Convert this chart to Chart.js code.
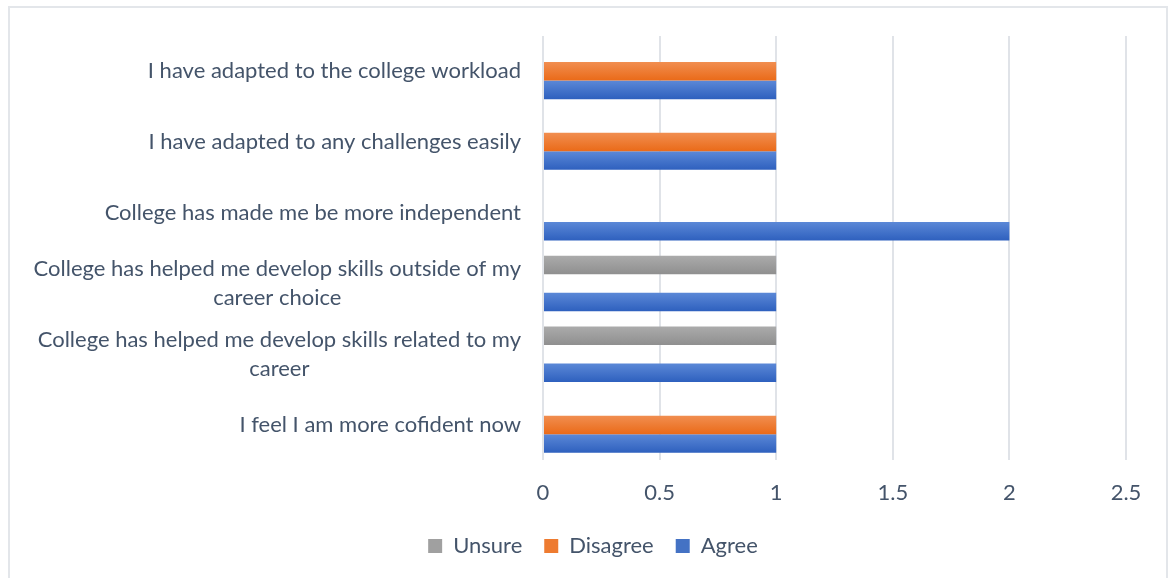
<!DOCTYPE html>
<html>
<head>
<meta charset="utf-8">
<script src="https://cdn.jsdelivr.net/npm/chart.js@4.4.1/dist/chart.umd.min.js"></script>
<style>
  html, body { margin: 0; padding: 0; background: #fff; }
  #wrap { position: relative; width: 1173px; height: 578px; overflow: hidden; }
  #frame { position: absolute; left: 8px; top: 6px; width: 1160px; height: 600px; border: 2px solid #E3E6EA; box-sizing: border-box; }
  canvas { position: absolute; left: 0; top: 0; }
</style>
</head>
<body>
<div id="wrap">
  <div id="frame"></div>
  <canvas id="chart" width="1173" height="578"></canvas>
</div>
<script>
const categories = [
    ['I have adapted to the college workload'],
    ['I have adapted to any challenges easily'],
    ['College has made me be more independent'],
    ['College has helped me develop skills outside of my', 'career choice'],
    ['College has helped me develop skills related to my', 'career'],
    ['I feel I am more cofident now']
];
const unsure = [null, null, null, 1, 1, null];
const disagree = [1, 1, null, null, null, 1];
const agree = [1, 1, 2, 1, 1, 1];
const xTicks = [0, 0.5, 1, 1.5, 2, 2.5];

const textColor = '#44546A';
const fontFamily = 'Lato, "Open Sans", sans-serif';
const fontSize = 22;
const catPct = 0.785;
const padLeft = 60;
const plotLeft = 543;

// vertical gradient per bar, computed from the category scale
const barGradient = (top, bottom, seriesCount) => (ctx) => {
    const chart = ctx.chart;
    const yScale = chart.scales.y;
    if (!yScale || !chart.chartArea) return bottom;
    const center = yScale.getPixelForValue(ctx.dataIndex);
    const pitch = (chart.chartArea.bottom - chart.chartArea.top) / categories.length;
    const slot = pitch * catPct / seriesCount;
    const y0 = center + (ctx.datasetIndex - (seriesCount - 1) / 2) * slot - slot / 2;
    const g = chart.ctx.createLinearGradient(0, y0, 0, y0 + slot);
    g.addColorStop(0, top);
    g.addColorStop(1, bottom);
    return g;
};

// category labels: block right-aligned, lines centred within the block
const categoryLabels = {
    id: 'categoryLabels',
    afterDraw(chart) {
        const { ctx, chartArea, scales } = chart;
        ctx.save();
        ctx.font = `${fontSize}px ${fontFamily}`;
        ctx.fillStyle = textColor;
        ctx.textAlign = 'center';
        ctx.textBaseline = 'middle';
        const right = chartArea.left - 22;
        const lineH = 29;
        categories.forEach((lines, i) => {
            const yc = scales.y.getPixelForValue(i);
            const w = Math.max(...lines.map(l => ctx.measureText(l).width));
            const cx = right - w / 2;
            lines.forEach((l, k) => {
                ctx.fillText(l, cx, yc + (k - (lines.length - 1) / 2) * lineH);
            });
        });
        ctx.restore();
    }
};

const ctx = document.getElementById('chart').getContext('2d');
new Chart(ctx, {
    type: 'bar',
    data: {
        labels: categories,
        datasets: [
            { label: 'Unsure', data: unsure, backgroundColor: barGradient('#ABABAB', '#8F8F8F', 3) },
            { label: 'Disagree', data: disagree, backgroundColor: barGradient('#F18E50', '#EA6A18', 3) },
            { label: 'Agree', data: agree, backgroundColor: barGradient('#5B88D7', '#2E60BE', 3) }
        ]
    },
    options: {
        indexAxis: 'y',
        responsive: false,
        animation: false,
        datasets: { bar: { categoryPercentage: catPct, barPercentage: 1 } },
        layout: { padding: { left: padLeft, right: 47, top: 36, bottom: 11 } },
        plugins: {
            tooltip: { enabled: false },
            legend: {
                position: 'bottom',
                labels: {
                    color: textColor,
                    font: { family: fontFamily, size: fontSize },
                    boxWidth: 14,
                    boxHeight: 14,
                    padding: 22,
                    // flat legend swatches
                    generateLabels: (chart) => {
                        const cols = ['#A0A0A0', '#EE7B30', '#4472C4'];
                        return chart.data.datasets.map((d, i) => ({
                            text: d.label,
                            fillStyle: cols[i],
                            strokeStyle: cols[i],
                            lineWidth: 0,
                            fontColor: textColor,
                            datasetIndex: i,
                            hidden: false
                        }));
                    }
                }
            }
        },
        scales: {
            x: {
                min: 0,
                max: 2.5,
                afterBuildTicks: (axis) => { axis.ticks = xTicks.map(v => ({ value: v })); },
                afterFit: (axis) => { axis.height = 52.6; },
                grid: { color: '#E0E3E8', lineWidth: 2, drawTicks: false },
                border: { display: false },
                ticks: {
                    color: textColor,
                    padding: 19,
                    font: { family: fontFamily, size: fontSize },
                    callback: (v) => String(v)
                }
            },
            y: {
                grid: { display: false },
                border: { display: false },
                ticks: { display: false },
                afterFit: (axis) => { axis.width = plotLeft - padLeft; }
            }
        }
    },
    plugins: [categoryLabels]
});
</script>
</body>
</html>
